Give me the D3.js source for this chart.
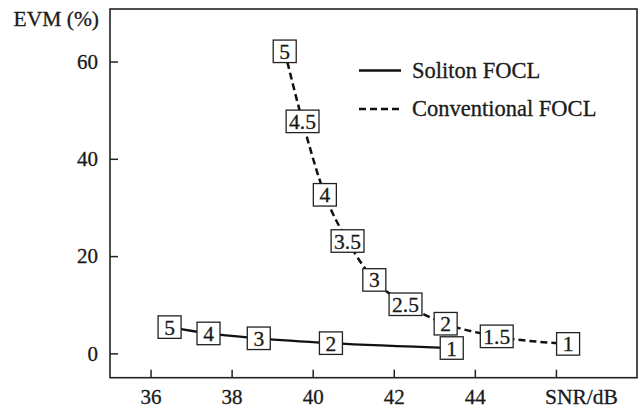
<!DOCTYPE html>
<html>
<head>
<meta charset="utf-8">
<script src="https://cdn.jsdelivr.net/npm/d3@7"></script>
<style>
  html, body { margin: 0; padding: 0; background: #fff; }
  svg { display: block; }
  svg text { font-family: "Liberation Serif", "DejaVu Serif", "Times New Roman", Times, serif !important; }
</style>
</head>
<body>
<svg id="chart" width="642" height="408"></svg>
<script>
// ---- data ----
const solitonSNR = [36.47, 37.43, 38.67, 40.45, 43.43];
const solitonEVM = [5.4, 4.1, 3.1, 2.1, 1.1];
const solitonLabels = ["5", "4", "3", "2", "1"];

const convSNR = [39.31, 39.75, 40.3, 40.86, 41.52, 42.29, 43.28, 44.54, 46.3];
const convEVM = [62.1, 47.7, 32.6, 23.1, 15.1, 10.1, 6.1, 3.5, 1.95];
const convLabels = ["5", "4.5", "4", "3.5", "3", "2.5", "2", "1.5", "1"];

const xTicks = [36, 38, 40, 42, 44, 46];
const xTickLabels = ["36", "38", "40", "42", "44", ""];
const yTicks = [0, 20, 40, 60];
const yTickLabels = ["0", "20", "40", "60"];

const seriesNames = ["Soliton FOCL", "Conventional FOCL"];
const xAxisTitle = "SNR/dB";
const yAxisTitle = "EVM (%)";

// ---- layout ----
const FONT = "Liberation Serif, DejaVu Serif, serif";
const INK = "#1a1a1a";
const svg = d3.select("#chart").attr("font-family", FONT);
const pLeft = 110, pRight = 637, pTop = 9, pBottom = 377.7;

const x = d3.scaleLinear().domain([35, 48]).range([pLeft, pRight]);
const y = d3.scaleLinear().domain([-5, 70.8]).range([pBottom, pTop]);

const tickFont = 21;
const boxFont = 21.5;

function ink(sel) {
  return sel.attr("fill", INK).attr("stroke", INK).attr("stroke-width", 0.3);
}

// axes
const xAxis = d3.axisBottom(x).tickValues(xTicks)
  .tickFormat((d, i) => xTickLabels[i])
  .tickSizeInner(-8).tickSizeOuter(0).tickPadding(11);
const gx = svg.append("g").attr("transform", `translate(0,${pBottom})`).call(xAxis);

const yAxis = d3.axisLeft(y).tickValues(yTicks)
  .tickFormat((d, i) => yTickLabels[i])
  .tickSizeInner(-8).tickSizeOuter(0).tickPadding(12);
const gy = svg.append("g").attr("transform", `translate(${pLeft},0)`).call(yAxis);

[gx, gy].forEach(g => {
  g.attr("font-family", FONT).attr("font-size", tickFont);
  g.select(".domain").remove();
  g.selectAll(".tick line").attr("stroke", "#222").attr("stroke-width", 1.5);
  ink(g.selectAll(".tick text")).attr("font-family", FONT).attr("font-size", tickFont);
});

// frame
svg.append("rect")
  .attr("x", pLeft).attr("y", pTop)
  .attr("width", pRight - pLeft).attr("height", pBottom - pTop)
  .attr("fill", "none").attr("stroke", "#222").attr("stroke-width", 1.6);

// axis titles
ink(svg.append("text").attr("x", 99).attr("y", 26).attr("text-anchor", "end"))
  .attr("font-family", FONT).attr("font-size", 21.5).text(yAxisTitle);
ink(svg.append("text").attr("x", 545).attr("y", 404).attr("text-anchor", "start"))
  .attr("font-family", FONT).attr("font-size", 21.5).text(xAxisTitle);

// lines
const line = d3.line().x(d => x(d[0])).y(d => y(d[1])).curve(d3.curveMonotoneX);
const solPts = solitonSNR.map((v, i) => [v, solitonEVM[i]]);
const convPts = convSNR.map((v, i) => [v, convEVM[i]]);

svg.append("path").attr("d", line(solPts)).attr("fill", "none")
  .attr("stroke", "#111").attr("stroke-width", 2.3);
svg.append("path").attr("d", line(convPts)).attr("fill", "none")
  .attr("stroke", "#111").attr("stroke-width", 2.5).attr("stroke-dasharray", "7,4");

// labelled boxes
function drawBoxes(pts, labels) {
  const g = svg.append("g");
  pts.forEach((p, i) => {
    const cx = x(p[0]), cy = y(p[1]);
    const bg = g.append("g");
    const rect = bg.append("rect");
    const t = ink(bg.append("text").attr("x", cx).attr("y", cy)
      .attr("text-anchor", "middle").attr("dy", "0.35em"))
      .attr("font-family", FONT).attr("font-size", boxFont).text(labels[i]);
    const w = Math.max(t.node().getComputedTextLength() + 6, 23);
    const h = 22.5;
    rect.attr("x", cx - w / 2).attr("y", cy - h / 2).attr("width", w).attr("height", h)
      .attr("fill", "#fff").attr("stroke", "#222").attr("stroke-width", 1.3);
  });
}
drawBoxes(solPts, solitonLabels);
drawBoxes(convPts, convLabels);

// legend
const legend = svg.append("g");
const legY = [70.5, 109];
legend.append("line").attr("x1", 359).attr("x2", 401).attr("y1", legY[0]).attr("y2", legY[0])
  .attr("stroke", "#111").attr("stroke-width", 2.4);
legend.append("line").attr("x1", 359).attr("x2", 401).attr("y1", legY[1]).attr("y2", legY[1])
  .attr("stroke", "#111").attr("stroke-width", 2.4).attr("stroke-dasharray", "7,4");
seriesNames.forEach((n, i) => {
  ink(legend.append("text").attr("x", 412).attr("y", legY[i]).attr("dy", "0.33em"))
    .attr("font-family", FONT).attr("font-size", 22.5).text(n);
});
</script>
</body>
</html>
